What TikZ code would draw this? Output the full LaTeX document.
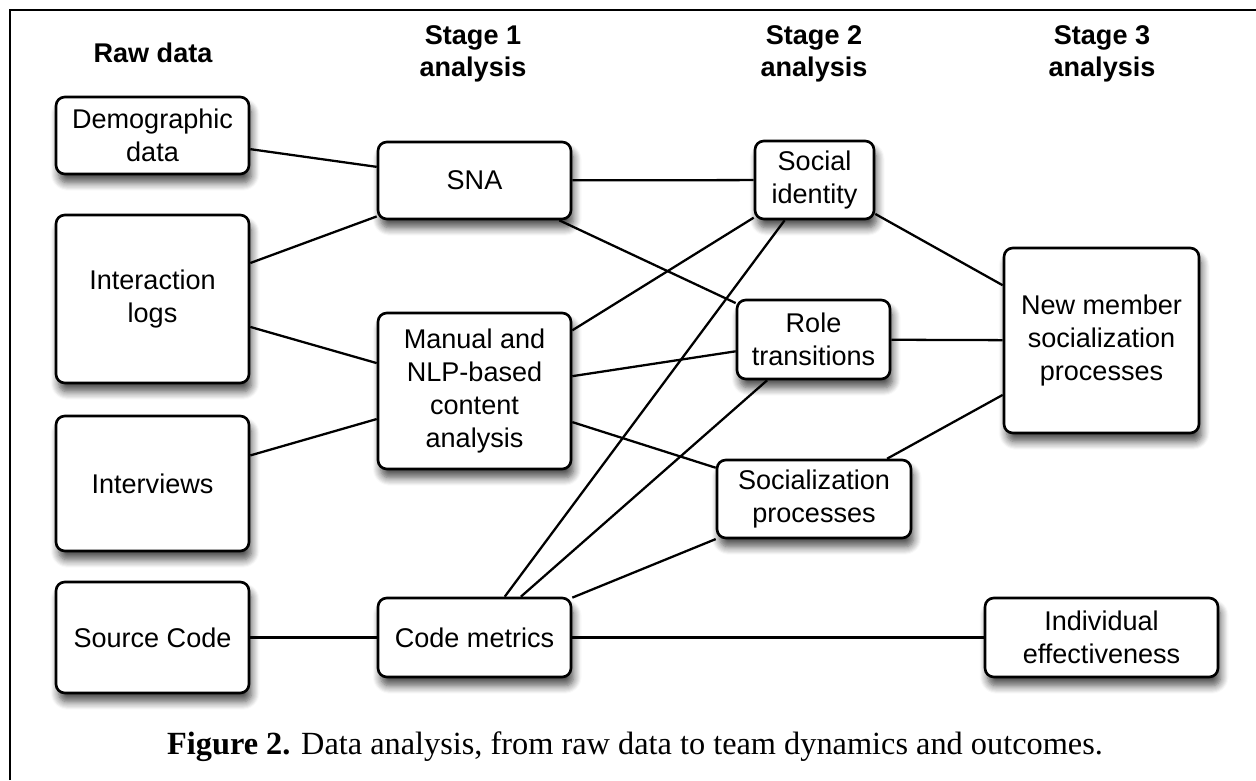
\documentclass[tikz,border=0pt]{standalone}
\usepackage{fontspec}
\setmainfont{Liberation Serif}
\setsansfont{Liberation Sans}
\usetikzlibrary{positioning,shadows.blur}

\begin{document}
\begin{tikzpicture}[x=0.02cm, y=-0.02cm,
    box/.style={draw, line width=1.5pt, rounded corners=5pt, fill=white, align=center, inner sep=2pt,
      font=\sffamily\fontsize{15.4}{18.8}\selectfont,
      blur shadow={shadow xshift=1.5pt, shadow yshift=-5pt, shadow blur radius=4.5pt, shadow blur steps=8, shadow opacity=70}},
    head/.style={align=center, font=\sffamily\bfseries\fontsize{15.4}{18}\selectfont},
    link/.style={line width=1.3pt}
]
\useasboundingbox (0,0) rectangle (1256,780);
\draw[line width=1.4pt] (10,780) -- (10,10) -- (1256,10);

\node[head] (h0) at (153,53) {Raw data};
\node[head] (h1) at (473,54) {Stage 1\\analysis};
\node[head] (h2) at (814,54) {Stage 2\\analysis};
\node[head] (h3) at (1102,54) {Stage 3\\analysis};

\node[box, minimum width=3.86cm, minimum height=1.54cm] (demo) at (152.5,135.5) {Demographic\\data};
\node[box, minimum width=3.86cm, minimum height=3.36cm] (logs) at (152.5,299) {Interaction\\logs};
\node[box, minimum width=3.86cm, minimum height=2.7cm] (intv) at (152.5,483.5) {Interviews};
\node[box, minimum width=3.86cm, minimum height=2.22cm] (src) at (152.5,637.5) {Source Code};

\node[box, minimum width=3.86cm, minimum height=1.54cm] (sna) at (474.5,180.5) {SNA};
\node[box, minimum width=3.86cm, minimum height=3.12cm] (nlp) at (474.5,391) {Manual and\\NLP-based\\content\\analysis};
\node[box, minimum width=3.86cm, minimum height=1.58cm] (code) at (474.5,637.5) {Code metrics};

\node[box, minimum width=2.38cm, minimum height=1.56cm] (ident) at (814.5,180) {Social\\identity};
\node[box, minimum width=3.06cm, minimum height=1.58cm] (role) at (813.5,339.5) {Role\\transitions};
\node[box, minimum width=3.88cm, minimum height=1.56cm] (socp) at (814,499) {Socialization\\processes};

\node[box, minimum width=3.9cm, minimum height=3.7cm] (newm) at (1101.5,340.5) {New member\\socialization\\processes};
\node[box, minimum width=4.66cm, minimum height=1.58cm] (indiv) at (1101.5,637.5) {Individual\\effectiveness};

\node[font=\fontsize{18.4}{22}\selectfont] (cap) at (635,747) {\textbf{Figure 2.} Data analysis, from raw data to team dynamics and outcomes.};

\draw[link] (demo) -- (sna);
\draw[link] (logs) -- (sna);
\draw[link] (logs) -- (nlp);
\draw[link] (intv) -- (nlp);
\draw[link] (src) -- (code);
\draw[link] (sna) -- (ident);
\draw[link] (sna) -- (role);
\draw[link] (nlp) -- (ident);
\draw[link] (nlp) -- (role);
\draw[link] (nlp) -- (socp);
\draw[link] (code) -- (ident);
\draw[link] (code) -- (role);
\draw[link] (code) -- (socp);
\draw[link] (code) -- (indiv);
\draw[link] (ident) -- (newm);
\draw[link] (role) -- (newm);
\draw[link] (socp) -- (newm);
\end{tikzpicture}
\end{document}
